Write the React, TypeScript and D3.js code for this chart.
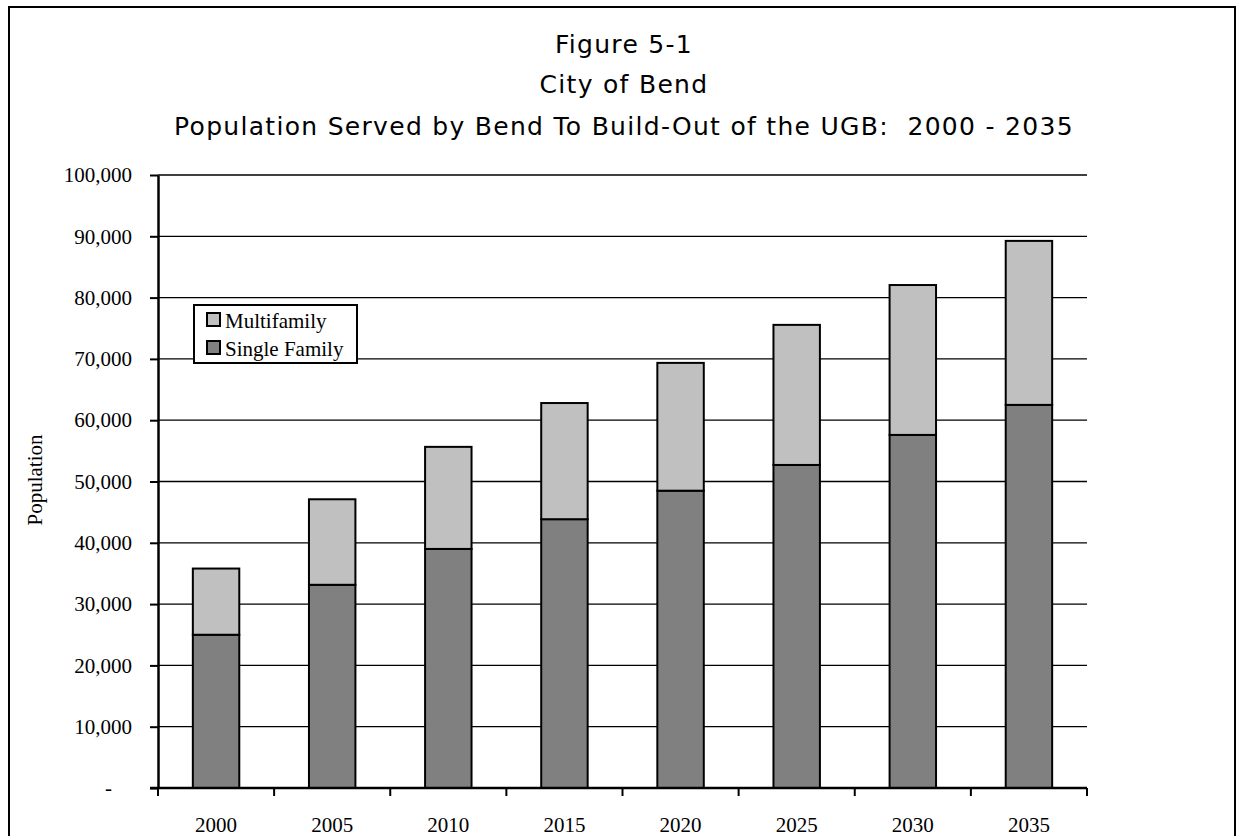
import { useEffect, useRef } from "react"
import * as d3 from "d3"

const years = ["2000", "2005", "2010", "2015", "2020", "2025", "2030", "2035"]
const singleFamily = [25000, 33150, 39000, 43850, 48500, 52700, 57600, 62500]
const multifamily = [10800, 13950, 16650, 18950, 20850, 22850, 24450, 26750]
const yTicks = [0, 10000, 20000, 30000, 40000, 50000, 60000, 70000, 80000, 90000, 100000]
const titleLines = [
    "Figure 5-1",
    "City of Bend",
    "Population Served by Bend To Build-Out of the UGB:  2000 - 2035",
]
const seriesNames = ["Multifamily", "Single Family"]
const seriesColors = ["#c0c0c0", "#808080"]

const serif = "'Liberation Serif', 'Times New Roman', serif"
const sans = "'DejaVu Sans', Verdana, sans-serif"

export default function App() {
    const ref = useRef<SVGSVGElement>(null)

    useEffect(() => {
        const width = 1238, height = 836
        const margin = { top: 175, left: 158, right: 151, bottom: 48 }
        const svg = d3.select(ref.current)
        svg.selectAll("*").remove()

        // outer frame
        svg.append("rect")
            .attr("x", 9).attr("y", 7)
            .attr("width", 1226).attr("height", 860)
            .attr("fill", "white")
            .attr("stroke", "black")
            .attr("stroke-width", 2)

        // title
        svg.append("g")
            .selectAll("text")
            .data(titleLines)
            .join("text")
            .attr("x", 624)
            .attr("y", (d, i) => [53, 93, 135][i])
            .attr("text-anchor", "middle")
            .style("font-family", sans)
            .style("font-size", "25px")
            .style("letter-spacing", "1.3px")
            .style("white-space", "pre")
            .attr("fill", "black")
            .text((d) => d)

        const x = d3.scaleBand()
            .domain(years)
            .range([margin.left, width - margin.right])
            .paddingInner(0.6)
            .paddingOuter(0.3)

        const y = d3.scaleLinear()
            .domain([0, 100000])
            .range([height - margin.bottom, margin.top])

        const x0 = margin.left, x1 = width - margin.right

        // gridlines
        svg.append("g")
            .selectAll("line")
            .data(yTicks.slice(1))
            .join("line")
            .attr("x1", x0).attr("x2", x1)
            .attr("y1", (d) => y(d)).attr("y2", (d) => y(d))
            .attr("stroke", "black")
            .attr("stroke-width", 1.3)

        // stacked bars
        const stackData = years.map((yr, i) => ({ year: yr, single: singleFamily[i], multi: multifamily[i] }))
        const stack = d3.stack<any>().keys(["single", "multi"])(stackData)
        const colorFor: Record<string, string> = { single: seriesColors[1], multi: seriesColors[0] }

        svg.append("g")
            .selectAll("g")
            .data(stack)
            .join("g")
            .attr("fill", (d) => colorFor[d.key])
            .selectAll("rect")
            .data((d) => d)
            .join("rect")
            .attr("x", (d) => x(d.data.year)!)
            .attr("width", x.bandwidth())
            .attr("y", (d) => y(d[1]))
            .attr("height", (d) => y(d[0]) - y(d[1]))
            .attr("stroke", "black")
            .attr("stroke-width", 2)

        // y axis
        const yAxis = d3.axisLeft(y)
            .tickValues(yTicks)
            .tickSize(8)
            .tickSizeOuter(0)
            .tickPadding(18)
            .tickFormat((d) => (+d === 0 ? "-" : d3.format(",")(+d)))

        const yg = svg.append("g")
            .attr("transform", `translate(${x0}, 0)`)
            .call(yAxis)
        yg.select(".domain").attr("stroke-width", 2.5)
        yg.selectAll(".tick line").attr("stroke-width", 2)
        yg.selectAll("text")
            .style("font-family", serif)
            .style("font-size", "21px")
            .attr("fill", "black")
        yg.selectAll(".tick text")
            .filter((d: any) => d === 0)
            .attr("x", -46)

        // x axis
        const step = x.step()
        const bounds = d3.range(years.length + 1).map((i) => x0 + i * step)
        const xg = svg.append("g")
        xg.append("line")
            .attr("x1", x0 - 8).attr("x2", x1)
            .attr("y1", y(0)).attr("y2", y(0))
            .attr("stroke", "black")
            .attr("stroke-width", 2.5)
        xg.selectAll(".xtick")
            .data(bounds)
            .join("line")
            .attr("class", "xtick")
            .attr("x1", (d) => d).attr("x2", (d) => d)
            .attr("y1", y(0)).attr("y2", y(0) + 8)
            .attr("stroke", "black")
            .attr("stroke-width", 2)
        xg.selectAll(".xlabel")
            .data(years)
            .join("text")
            .attr("class", "xlabel")
            .attr("x", (d) => x(d)! + x.bandwidth() / 2)
            .attr("y", 832)
            .attr("text-anchor", "middle")
            .style("font-family", serif)
            .style("font-size", "21px")
            .attr("fill", "black")
            .text((d) => d)

        // y axis title
        svg.append("text")
            .attr("transform", "translate(42, 480) rotate(-90)")
            .attr("text-anchor", "middle")
            .style("font-family", serif)
            .style("font-size", "21px")
            .attr("fill", "black")
            .text("Population")

        // legend
        const legend = svg.append("g")
        legend.append("rect")
            .attr("x", 194).attr("y", 305)
            .attr("width", 163).attr("height", 58)
            .attr("fill", "white")
            .attr("stroke", "black")
            .attr("stroke-width", 2)
        const items = legend.selectAll(".item")
            .data(seriesNames)
            .join("g")
            .attr("class", "item")
            .attr("transform", (d, i) => `translate(207, ${313 + i * 28})`)
        items.append("rect")
            .attr("width", 13).attr("height", 13)
            .attr("fill", (d, i) => seriesColors[i])
            .attr("stroke", "black")
            .attr("stroke-width", 2)
        items.append("text")
            .attr("x", 18)
            .attr("y", 15)
            .style("font-family", serif)
            .style("font-size", "21px")
            .attr("fill", "black")
            .text((d) => d)
    }, [])

    return (
        <svg
            ref={ref}
            width={1238}
            height={836}
            style={{ position: "absolute", left: 0, top: 0, display: "block", background: "white" }}
        />
    )
}
